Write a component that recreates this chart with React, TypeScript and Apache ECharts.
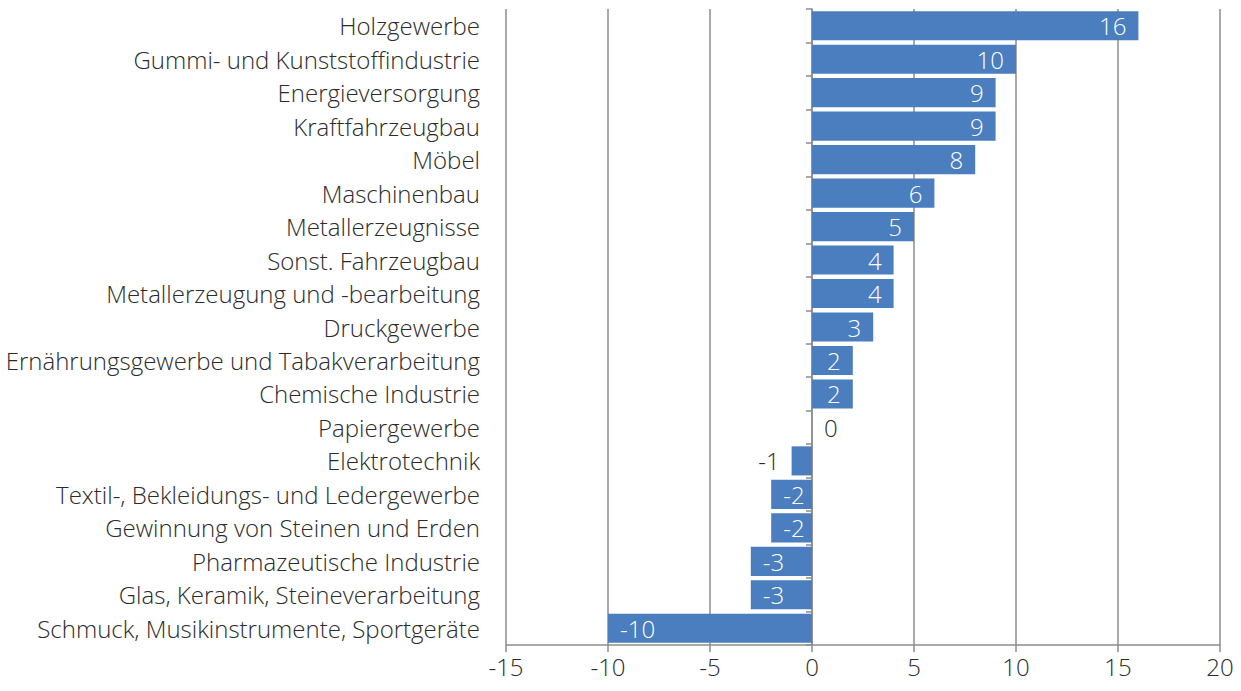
import React, { useEffect, useRef } from "react";
import * as echarts from "echarts";

const categories = [
  "Holzgewerbe",
  "Gummi- und Kunststoffindustrie",
  "Energieversorgung",
  "Kraftfahrzeugbau",
  "Möbel",
  "Maschinenbau",
  "Metallerzeugnisse",
  "Sonst. Fahrzeugbau",
  "Metallerzeugung und -bearbeitung",
  "Druckgewerbe",
  "Ernährungsgewerbe und Tabakverarbeitung",
  "Chemische Industrie",
  "Papiergewerbe",
  "Elektrotechnik",
  "Textil-, Bekleidungs- und Ledergewerbe",
  "Gewinnung von Steinen und Erden",
  "Pharmazeutische Industrie",
  "Glas, Keramik, Steineverarbeitung",
  "Schmuck, Musikinstrumente, Sportgeräte",
];
const values = [16, 10, 9, 9, 8, 6, 5, 4, 4, 3, 2, 2, 0, -1, -2, -2, -3, -3, -10];
const xTicks = { min: -15, max: 20, interval: 5 };

const FONT = "'Open Sans', 'Noto Sans', sans-serif";
const TEXT = "#2b2b2b";
const GRID = "#8c8c8c";

export default function App() {
  const ref = useRef<HTMLDivElement>(null);
  useEffect(() => {
    document.body.style.margin = "0";
    const chart = echarts.init(ref.current!, undefined, { renderer: "svg" });
    const data = values.map((v) => {
      let label: any;
      if (v >= 2) label = { position: "insideRight", color: "#fff" };
      else if (v <= -2) label = { position: "insideLeft", color: "#fff" };
      else if (v < 0) label = { position: "left", color: TEXT };
      else label = { position: "right", color: TEXT };
      return { value: v, label };
    });
    chart.setOption({
      animation: false,
      grid: { left: 506, right: 21, top: 9, bottom: 46, containLabel: false },
      xAxis: {
        type: "value",
        min: xTicks.min,
        max: xTicks.max,
        interval: xTicks.interval,
        axisLine: { show: true, onZero: false, lineStyle: { color: GRID, width: 1.5 } },
        axisTick: { show: true, length: 7, lineStyle: { color: GRID, width: 1.5 } },
        splitLine: { show: true, lineStyle: { color: GRID, width: 1.5 } },
        axisLabel: { color: TEXT, fontSize: 24, fontWeight: 300, fontFamily: FONT, margin: 9 },
      },
      yAxis: [
        {
          type: "category",
          data: categories,
          inverse: true,
          position: "left",
          axisLine: { show: false },
          axisTick: { show: false },
          axisLabel: { color: TEXT, fontSize: 24, fontWeight: 300, fontFamily: FONT, margin: 26 },
        },
        {
          type: "category",
          data: categories,
          inverse: true,
          position: "right",
          axisLine: { show: true, onZero: true, onZeroAxisIndex: 0, lineStyle: { color: GRID, width: 1.5 } },
          axisTick: { show: true, inside: true, length: 6, lineStyle: { color: GRID, width: 1.5 } },
          axisLabel: { show: false },
        },
      ],
      series: [
        {
          type: "bar",
          yAxisIndex: 0,
          data,
          barCategoryGap: "13%",
          itemStyle: { color: "#4a7ebf" },
          label: {
            show: true,
            fontSize: 24,
            fontWeight: 300,
            fontFamily: FONT,
            distance: 12,
          },
        },
      ],
    });
    return () => chart.dispose();
  }, []);
  return <div ref={ref} style={{ width: 1241, height: 691 }} />;
}
